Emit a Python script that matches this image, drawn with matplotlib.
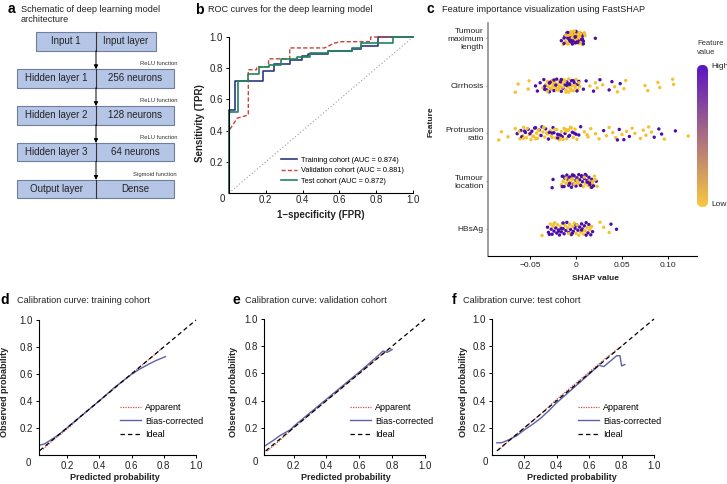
import matplotlib
matplotlib.use("Agg")
import matplotlib.pyplot as plt
import numpy as np
from matplotlib.colors import LinearSegmentedColormap
from matplotlib.patches import Rectangle, FancyBboxPatch

plt.rcParams['font.family'] = ['Liberation Sans', 'DejaVu Sans']

# ---------------- panel a: network schematic ----------------
layer_names = ["Input 1", "Hidden layer 1", "Hidden layer 2", "Hidden layer 3", "Output layer"]
layer_desc = ["Input layer", "256 neurons", "128 neurons", "64 neurons", "Dense"]
activations = ["ReLU function", "ReLU function", "ReLU function", "Sigmoid function"]

# ---------------- panel b: ROC curves ----------------
train_fpr = [0.0, 0.0, 0.03, 0.03, 0.185, 0.185, 0.245, 0.245, 0.33, 0.33, 0.395, 0.395,
             0.43, 0.43, 0.54, 0.54, 0.67, 0.67, 0.72, 0.72, 0.81, 0.81, 1.0]
train_tpr = [0.0, 0.53, 0.53, 0.72, 0.72, 0.78, 0.78, 0.83, 0.83, 0.85, 0.85, 0.88,
             0.88, 0.89, 0.89, 0.91, 0.91, 0.92, 0.92, 0.94, 0.94, 1.0, 1.0]
val_fpr = [0.0, 0.0, 0.045, 0.105, 0.105, 0.15, 0.15, 0.215, 0.215, 0.33, 0.33, 0.52,
           0.57, 0.61, 0.77, 0.77, 1.0]
val_tpr = [0.0, 0.40, 0.48, 0.50, 0.79, 0.79, 0.81, 0.81, 0.86, 0.86, 0.93, 0.93,
           0.96, 0.97, 0.97, 1.0, 1.0]
test_fpr = [0.0, 0.0, 0.05, 0.05, 0.105, 0.105, 0.165, 0.165, 0.22, 0.22, 0.28, 0.28,
            0.37, 0.37, 0.44, 0.44, 0.54, 0.54, 0.67, 0.67, 0.72, 0.72, 0.89, 0.89, 1.0]
test_tpr = [0.0, 0.52, 0.52, 0.72, 0.72, 0.76, 0.76, 0.81, 0.81, 0.82, 0.82, 0.86,
            0.86, 0.87, 0.87, 0.90, 0.90, 0.91, 0.91, 0.93, 0.93, 0.96, 0.96, 1.0, 1.0]
roc_labels = ["Training cohort (AUC = 0.874)", "Validation cohort (AUC = 0.881)",
              "Test cohort (AUC = 0.872)"]

# ---------------- panel c: FastSHAP values ----------------
features = ["Tumour\nmaximum\nlength", "Cirrhosis", "Protrusion\nratio", "Tumour\nlocation", "HBsAg"]
shap_tml = [-0.014, -0.012, -0.011, -0.010, -0.009, -0.008, -0.008, -0.007, -0.006, -0.006,
            -0.005, -0.005, -0.004, -0.004, -0.003, -0.003, -0.002, -0.002, -0.001, -0.001,
            0.000, 0.000, 0.001, 0.001, 0.002, 0.002, 0.003, 0.003, 0.004, 0.004,
            0.005, 0.005, 0.006, 0.006, 0.007, 0.007, 0.008, 0.009, -0.013, -0.010,
            -0.007, -0.005, -0.003, -0.001, 0.001, 0.003, 0.005, 0.008, 0.010, -0.016,
            -0.009, -0.004, 0.000, 0.002, 0.006, -0.002, 0.004, -0.006, 0.009, 0.021,
            -0.013, -0.011, -0.007, -0.004, -0.001, 0.002, 0.005, 0.007, -0.009, 0.003]
level_tml = ("LHLHHLLHLH" "HLLHLHHLHL" "LHHLHLLHHL" "HLHLLHHLHL" "LHLHHLLHLH" "HLHLHLLHLH"
             "HLHLHHLHLL")
shap_cir = [-0.066, -0.063, -0.052, -0.051, -0.044, -0.042, -0.039, -0.036, -0.035, -0.033,
            -0.032, -0.031, -0.030, -0.029, -0.028, -0.027, -0.026, -0.025, -0.024, -0.023,
            -0.022, -0.021, -0.020, -0.019, -0.018, -0.017, -0.016, -0.015, -0.014, -0.013,
            -0.012, -0.011, -0.010, -0.009, -0.008, -0.007, -0.006, -0.005, -0.004, -0.003,
            -0.002, -0.001, 0.000, 0.001, 0.002, 0.003, 0.004, -0.030, -0.025, -0.020,
            -0.015, -0.010, -0.005, -0.028, -0.018, -0.008, 0.002, 0.008, 0.011, 0.015,
            0.019, 0.021, 0.023, 0.026, 0.029, 0.036, 0.039, 0.042, 0.045, 0.048,
            0.052, 0.054, 0.075, 0.078, 0.089, 0.091, 0.105, 0.106, -0.034, -0.012,
            -0.034, -0.031, -0.029, -0.027, -0.024, -0.022, -0.019, -0.017, -0.014, -0.011,
            -0.009, -0.006, -0.003, -0.001, 0.001, 0.003, -0.026, -0.016, -0.007, -0.021]
level_cir = ("LLLLHHHLHL" "HLLHLHLLHL" "LHLHLLHLHL" "HLHLLHLHLL"
             "HLLHLHLHLL" "LHLHLLHHHL" "HLLHLHHLLH" "LLLLLLLLHL"
             "HLHLHHLHLL" "HLHLHLLHHL")
shap_pro = [-0.084, -0.081, -0.074, -0.066, -0.064, -0.061, -0.060, -0.058, -0.057, -0.055,
            -0.054, -0.052, -0.051, -0.049, -0.048, -0.046, -0.045, -0.043, -0.042, -0.040,
            -0.039, -0.037, -0.036, -0.034, -0.033, -0.031, -0.030, -0.028, -0.027, -0.025,
            -0.024, -0.022, -0.021, -0.019, -0.018, -0.016, -0.015, -0.013, -0.012, -0.010,
            -0.009, -0.007, -0.006, -0.004, -0.003, -0.001, 0.000, 0.001, -0.056, -0.047,
            -0.035, -0.026, -0.017, -0.008, 0.003, 0.005, 0.009, 0.013, 0.016, 0.021,
            0.025, 0.030, 0.033, 0.036, 0.040, 0.043, 0.047, 0.050, 0.052, 0.055,
            0.058, 0.061, 0.064, 0.070, 0.073, 0.076, 0.079, 0.082, 0.085, 0.090,
            0.093, 0.096, 0.108, 0.122, -0.044, -0.032, -0.020, -0.011, 0.012, 0.045,
            -0.062, -0.059, -0.053, -0.050, -0.044, -0.041, -0.038, -0.035, -0.029, -0.026,
            -0.023, -0.020, -0.014, -0.011, -0.008, -0.005, -0.002, -0.057, -0.041, -0.017]
level_pro = ("LLLLHLHLLH" "LHLLHLHLLH" "LHLLHLHLLH" "HLLHLLHLHL" "LHLHLLHLHL"
             "LHLLHHLLLL" "LHLLLLHLHL" "HLLLLLLLHH" "HLHLHLHLLH"
             "LHLHLLHLHL" "LHLLHLHLLH")
shap_loc = [-0.026, -0.025, -0.016, -0.015, -0.014, -0.013, -0.012, -0.011, -0.010, -0.009,
            -0.008, -0.007, -0.006, -0.005, -0.004, -0.003, -0.002, -0.001, 0.000, 0.001,
            0.002, 0.003, 0.004, 0.005, 0.006, 0.007, 0.008, 0.009, 0.010, 0.011,
            0.012, 0.013, 0.014, 0.015, 0.016, 0.017, 0.018, 0.020, 0.022, 0.023,
            -0.012, -0.008, -0.004, 0.000, 0.004, 0.008, 0.012, 0.016, -0.010, -0.002,
            0.006, 0.014, 0.019, -0.006, 0.002, 0.010, 0.021, 0.015, -0.014, 0.018,
            -0.015, -0.011, -0.007, -0.003, 0.001, 0.005, 0.009, 0.013, 0.017, -0.005]
level_loc = ("HHLHLHHLHL" "HHLHLHHLHH" "LHHLHHLHLH" "HLHHLHLLHL" "HLHHLHHLHL" "HLHHLHLHHL"
             "HLHHLHLHHL")
shap_hbs = [-0.037, -0.031, -0.030, -0.028, -0.027, -0.026, -0.025, -0.024, -0.023, -0.022,
            -0.021, -0.020, -0.019, -0.018, -0.017, -0.016, -0.015, -0.014, -0.013, -0.012,
            -0.011, -0.010, -0.009, -0.008, -0.007, -0.006, -0.005, -0.004, -0.003, -0.002,
            -0.001, 0.000, 0.001, 0.002, 0.003, 0.004, 0.005, 0.006, 0.007, 0.008,
            0.009, 0.010, 0.011, 0.012, 0.013, 0.014, 0.015, 0.016, 0.017, 0.018,
            -0.024, -0.016, -0.008, 0.000, 0.008, 0.026, 0.030, 0.036, 0.038, 0.044,
            -0.029, -0.025, -0.019, -0.014, -0.009, -0.004, 0.001, 0.006, 0.011, 0.016]
level_hbs = ("LHHLHHLHLH" "HLHHLHLHHL" "HHLHLHHLHL" "HLHHLHLHHL" "HLHLHHLHLH" "LHLHLLLLHH"
             "HLHHLHLHHL")

# ---------------- panels d-f: calibration ----------------
ideal_line = [0.03, 1.0]
tr_app_x = [0.05, 0.1, 0.2, 0.3, 0.4, 0.5, 0.6, 0.7, 0.8]
tr_app_y = [0.04, 0.095, 0.19, 0.3, 0.4, 0.5, 0.6, 0.7, 0.8]
tr_bc_x = [0.03, 0.06, 0.1, 0.15, 0.2, 0.3, 0.4, 0.5, 0.6, 0.65, 0.7, 0.75, 0.81]
tr_bc_y = [0.07, 0.08, 0.11, 0.15, 0.2, 0.3, 0.4, 0.505, 0.597, 0.635, 0.668, 0.698, 0.728]
va_app_x = [0.04, 0.1, 0.2, 0.3, 0.4, 0.5, 0.6, 0.7, 0.78, 0.8]
va_app_y = [0.03, 0.09, 0.2, 0.3, 0.4, 0.5, 0.6, 0.7, 0.78, 0.78]
va_bc_x = [0.03, 0.08, 0.12, 0.18, 0.2, 0.3, 0.4, 0.5, 0.6, 0.7, 0.745, 0.77, 0.8]
va_bc_y = [0.07, 0.11, 0.145, 0.185, 0.21, 0.31, 0.41, 0.51, 0.61, 0.715, 0.765, 0.755, 0.775]
te_app_x = [0.04, 0.1, 0.2, 0.3, 0.4, 0.5, 0.6, 0.7, 0.8]
te_app_y = [0.035, 0.1, 0.2, 0.3, 0.41, 0.51, 0.61, 0.71, 0.8]
te_bc_x = [0.03, 0.06, 0.1, 0.15, 0.2, 0.25, 0.3, 0.35, 0.4, 0.5, 0.6, 0.66, 0.69, 0.73,
           0.77, 0.79, 0.80, 0.82]
te_bc_y = [0.09, 0.09, 0.11, 0.14, 0.185, 0.225, 0.27, 0.325, 0.385, 0.49, 0.595, 0.66,
           0.65, 0.69, 0.73, 0.73, 0.655, 0.665]
calib_labels = ["Apparent", "Bias-corrected", "Ideal"]

TICKS = [0.2, 0.4, 0.6, 0.8, 1.0]
TICKLAB = ["0.2", "0.4", "0.6", "0.8", "1.0"]
TXT = "#222222"

W, H = 727, 484
fig = plt.figure(figsize=(W / 100, H / 100), dpi=100)


def rect(l, t, r, b):
    return [l / W, 1 - b / H, (r - l) / W, (b - t) / H]


def ftext(x, y, s, **kw):
    kw.setdefault("color", TXT)
    fig.text(x / W, 1 - y / H, s, **kw)


def panel_title(lx, tx, y, letter, title):
    ftext(lx, y, letter, fontsize=10, weight="bold", ha="center", va="center", color="black")
    ftext(tx, y, title, fontsize=6.6, ha="left", va="center")


# ---- a ----
ax_a = fig.add_axes([0, 0, 1, 1])
ax_a.set_xlim(0, W)
ax_a.set_ylim(H, 0)
ax_a.axis("off")
ax_a.patch.set_visible(False)
box_h, step, top0, mid = 18.4, 36.9, 32.3, 96
for i, (left, right) in enumerate(zip(layer_names, layer_desc)):
    top = top0 + step * i
    x0, x1 = (36, 156) if i == 0 else (17, 174)
    ax_a.add_patch(Rectangle((x0, top), x1 - x0, box_h, facecolor="#b5c5e6",
                             edgecolor="#6f7e9c", lw=0.8))
    ax_a.plot([mid, mid], [top, top + box_h], color="#333333", lw=0.8)
    ax_a.text((x0 + mid) / 2, top + box_h / 2, left, ha="center", va="center",
              fontsize=7, color=TXT)
    ax_a.text((mid + x1) / 2, top + box_h / 2, right, ha="center", va="center",
              fontsize=7, color=TXT)
for i, act in enumerate(activations):
    y0 = top0 + step * i + box_h
    y1 = top0 + step * (i + 1)
    ax_a.annotate("", xy=(mid, y1), xytext=(mid, y0),
                  arrowprops=dict(arrowstyle="-|>", color="black", lw=0.7,
                                  mutation_scale=6, shrinkA=0, shrinkB=0))
    ax_a.text(177, y1 - 5.5, act, ha="right", va="center", fontsize=4.2, color="#333333")
ftext(11.5, 9, "a", fontsize=10, weight="bold", ha="center", va="center", color="black")
ftext(21, 4.5, "Schematic of deep learning model\narchitecture", fontsize=6.6,
      ha="left", va="top", linespacing=1.25)

# ---- b ----
ax_b = fig.add_axes(rect(229, 37, 413, 193))
ax_b.plot([0, 1], [0, 1], color="#9a9a9a", lw=0.8, ls=(0, (1, 2)))
l1, = ax_b.plot(train_fpr, train_tpr, color="#2b3a80", lw=1.2, clip_on=False)
l2, = ax_b.plot(val_fpr, val_tpr, color="#c9433c", lw=1.0, ls=(0, (3, 1.6)), clip_on=False)
l3, = ax_b.plot(test_fpr, test_tpr, color="#23845e", lw=1.2, clip_on=False)
ax_b.set_xlim(0, 1)
ax_b.set_ylim(0, 1)
for s in ("top", "right"):
    ax_b.spines[s].set_visible(False)
for s in ("left", "bottom"):
    ax_b.spines[s].set_linewidth(0.8)
ax_b.set_xticks(TICKS)
ax_b.set_xticklabels(TICKLAB)
ax_b.set_yticks(TICKS)
ax_b.set_yticklabels(TICKLAB)
ax_b.tick_params(axis="y", length=2.2, width=0.7, pad=2.2, labelsize=7, labelcolor=TXT)
ax_b.tick_params(axis="x", direction="in", length=2, width=0.7, pad=1.5, labelsize=7,
                 labelcolor=TXT)
ax_b.legend([l1, l2, l3], roc_labels, loc="upper left",
            bbox_to_anchor=((281 - 229) / 184, (193 - 156.5) / 156), fontsize=5.3,
            frameon=False, handlelength=2.2, handletextpad=0.5, labelspacing=0.45,
            borderpad=0, borderaxespad=0)
ftext(222, 198.5, "0", fontsize=7, ha="center", va="center")
ftext(200, 123, "Sensitivity (TPR)", fontsize=7, weight="bold", rotation=90,
      ha="center", va="center")
ftext(321, 215, "1\u2212specificity (FPR)", fontsize=7, weight="bold", ha="center", va="center")
panel_title(199, 208, 10, "b", "ROC curves for the deep learning model")

# ---- c ----
ax_c = fig.add_axes(rect(488, 23, 697, 256))
purple, yellow = "#4c0fa6", "#f6c12e"
rows = [(shap_tml, level_tml), (shap_cir, level_cir), (shap_pro, level_pro),
        (shap_loc, level_loc), (shap_hbs, level_hbs)]
for k, (vals, lev) in enumerate(rows):
    ypos = len(rows) - 1 - k
    n = len(vals)
    jit = ((np.arange(n) * 0.6180339) % 1 - 0.5) * 0.28
    cols = [purple if c == "H" else yellow for c in lev[:n]]
    ax_c.scatter(vals, ypos + jit, c=cols, s=6, linewidths=0)
ax_c.set_xlim(-0.0957, 0.1315)
ax_c.set_ylim(-0.57, 4.31)
for s in ("top", "right"):
    ax_c.spines[s].set_visible(False)
ax_c.spines["left"].set_color("#8c8c8c")
ax_c.spines["left"].set_linewidth(1.2)
ax_c.spines["bottom"].set_linewidth(0.8)
ax_c.set_xticks([-0.05, 0, 0.05, 0.10])
ax_c.set_xticklabels(["\u22120.05", "0", "0.05", "0.10"])
ax_c.set_yticks(list(range(len(features) - 1, -1, -1)))
ax_c.set_yticklabels(features, multialignment="right")
ax_c.tick_params(axis="x", length=2.2, width=0.7, pad=2, labelsize=6, labelcolor=TXT)
ax_c.tick_params(axis="y", length=1.5, width=0.7, pad=1.5, labelsize=6, labelcolor=TXT,
                 color="#8c8c8c")
ftext(431, 122, "Feature", fontsize=6, weight="bold", rotation=90, ha="center", va="center")
ftext(596, 278, "SHAP value", fontsize=6, weight="bold", ha="center", va="center")
panel_title(430, 442, 9, "c", "Feature importance visualization using FastSHAP")

# colour bar
cmap = LinearSegmentedColormap.from_list("fv", ["#f9c740", "#5a14c4"])
ax_cb = fig.add_axes(rect(697, 65, 708, 207))
im = ax_cb.imshow(np.linspace(0, 1, 256).reshape(-1, 1), aspect="auto", cmap=cmap,
                  origin="lower", extent=[0, 11, 0, 142])
ax_cb.set_xlim(0, 11)
ax_cb.set_ylim(0, 142)
ax_cb.axis("off")
clip = FancyBboxPatch((0, 0), 11, 142, boxstyle="round,pad=0,rounding_size=5.5",
                      transform=ax_cb.transData, facecolor="none", edgecolor="none")
im.set_clip_path(clip)
ftext(697, 48, "Feature\nvalue", fontsize=5.5, ha="left", va="center", linespacing=1.3,
      color="#333333")
ftext(711, 66, "High", fontsize=6, ha="left", va="center")
ftext(711, 205, "Low", fontsize=6, ha="left", va="center")


# ---- d, e, f ----
def calib(box, xmin, app_x, app_y, bc_x, bc_y, zero_xy, leg_x, ylab_x, xlab_x):
    l, t, r, b = box
    ax = fig.add_axes(rect(l, t, r, b))
    h1, = ax.plot(app_x, app_y, color="#c0504d", lw=0.9, ls=(0, (1, 1)))
    h2, = ax.plot(bc_x, bc_y, color="#5c62a8", lw=1.0)
    h3, = ax.plot(ideal_line, ideal_line, color="black", lw=0.9, ls=(0, (3.5, 2.5)),
                  clip_on=False)
    ax.set_xlim(xmin, 1)
    ax.set_ylim(0, 1)
    for s in ("top", "right"):
        ax.spines[s].set_visible(False)
    for s in ("left", "bottom"):
        ax.spines[s].set_linewidth(0.8)
    ax.set_xticks(TICKS)
    ax.set_xticklabels(TICKLAB)
    ax.set_yticks(TICKS)
    ax.set_yticklabels(TICKLAB)
    ax.tick_params(length=2.2, width=0.7, pad=2.2, labelsize=7, labelcolor=TXT)
    ax.legend([h1, h2, h3], calib_labels, loc="upper left",
              bbox_to_anchor=((leg_x - l) / (r - l), (b - 403) / (b - t)), fontsize=6.5,
              frameon=False, handlelength=2.3, handletextpad=0.5, labelspacing=0.5,
              borderpad=0, borderaxespad=0)
    ftext(zero_xy[0], zero_xy[1], "0", fontsize=7, ha="center", va="center")
    ftext(ylab_x, 392, "Observed probability", fontsize=6.5, weight="bold", rotation=90,
          ha="center", va="center")
    ftext(xlab_x, 478, "Predicted probability", fontsize=6.5, weight="bold",
          ha="center", va="center")
    return ax


calib((39, 320, 196, 454.6), 0.025, tr_app_x, tr_app_y, tr_bc_x, tr_bc_y,
      (28, 463), 120, 5, 115)
calib((264, 319, 425, 455), 0.02, va_app_x, va_app_y, va_bc_x, va_bc_y,
      (255, 462), 350, 233, 346)
calib((492, 319, 654, 455), 0.0, te_app_x, te_app_y, te_bc_x, te_bc_y,
      (485, 462), 578, 463, 572)
panel_title(4.5, 17, 300.5, "d", "Calibration curve: training cohort")
panel_title(236, 245, 300.5, "e", "Calibration curve: validation cohort")
panel_title(454, 463, 300.5, "f", "Calibration curve: test cohort")

fig.savefig("out.png", dpi=100)
